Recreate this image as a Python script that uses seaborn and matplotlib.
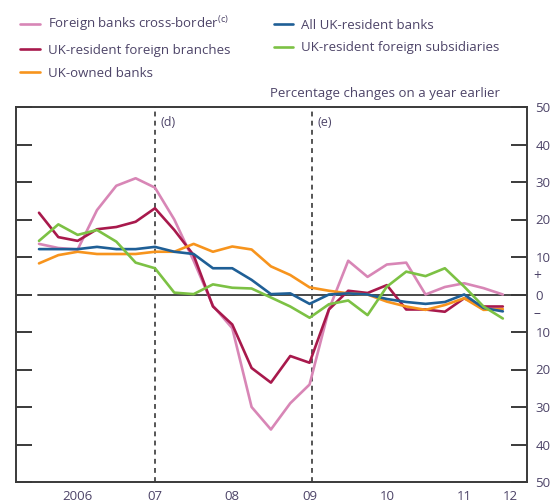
import pandas as pd
import matplotlib.pyplot as plt
import seaborn as sns
from matplotlib.lines import Line2D

# quarterly observations, 2006 Q1 .. 2012 Q1
quarters = list(range(25))

foreign_cross_border = [13.5, 12.4, 12.0, 22.5, 29.0, 31.0, 28.5, 20.0, 9.0, -3.0,
                        -9.0, -30.0, -36.0, -29.0, -24.0, -4.0, 9.0, 4.7, 8.0, 8.5,
                        0.0, 2.0, 3.0, 1.7, 0.0]
foreign_branches = [21.8, 15.3, 14.3, 17.4, 18.0, 19.4, 23.0, 17.2, 10.5, -3.2,
                    -8.0, -19.6, -23.5, -16.4, -18.2, -4.0, 1.0, 0.4, 2.5, -4.0,
                    -4.0, -4.6, -1.0, -3.2, -3.2]
uk_owned = [8.3, 10.5, 11.4, 10.8, 10.8, 10.8, 11.4, 11.4, 13.5, 11.4,
            12.8, 12.0, 7.5, 5.2, 1.9, 1.0, 0.3, 0.0, -1.9, -3.2,
            -4.1, -2.8, -1.0, -4.1, -3.9]
all_uk_resident = [12.1, 12.1, 12.1, 12.7, 12.1, 12.1, 12.7, 11.4, 10.8, 7.0,
                   7.0, 3.9, 0.1, 0.3, -2.5, 0.0, 0.3, 0.0, -1.2, -2.0,
                   -2.5, -2.0, 0.0, -3.6, -4.5]
foreign_subsidiaries = [14.3, 18.7, 15.9, 17.2, 14.1, 8.5, 7.0, 0.5, 0.1, 2.7,
                        1.8, 1.6, -0.8, -3.2, -6.2, -2.6, -1.6, -5.5, 2.1, 6.1,
                        4.9, 7.0, 2.1, -3.2, -6.4]

series_names = ['Foreign banks cross-border$^{(c)}$',
                'UK-resident foreign branches',
                'UK-owned banks',
                'All UK-resident banks',
                'UK-resident foreign subsidiaries']
series_values = [foreign_cross_border, foreign_branches, uk_owned,
                 all_uk_resident, foreign_subsidiaries]
colors = ['#d886b6', '#a8194c', '#f7941d', '#1f5f96', '#7cc144']

year_label_pos = [2, 6, 10, 14, 18, 22, 24.4]
year_labels = ['2006', '07', '08', '09', '10', '11', '12']
y_ticks = [50, 40, 30, 20, 10, 0, -10, -20, -30, -40, -50]
y_labels = ['50', '40', '30', '20', '10', '0', '10', '20', '30', '40', '50']
event_pos = [6.0, 14.1]
event_labels = ['(d)', '(e)']

df = pd.DataFrame({
    'quarter': quarters * len(series_names),
    'value': sum(series_values, []),
    'series': [n for n in series_names for _ in quarters],
})

sns.set_style('white')
plt.rcParams['font.family'] = ['Open Sans', 'DejaVu Sans']
plt.rcParams['mathtext.default'] = 'regular'
txt = '#4d4468'
dark = '#3a3a3a'

fig = plt.figure(figsize=(5.52, 5.03), dpi=100)
ax = fig.add_axes([16 / 552, 21 / 503, 511 / 552, 375 / 503])

ax.axhline(0, xmin=0.043, xmax=1, color=dark, lw=1.3, zorder=1)
for p in event_pos:
    ax.axvline(p, color='#555555', lw=1.4, ls=(0, (2.5, 2.2)), zorder=1)

sns.lineplot(data=df, x='quarter', y='value', hue='series',
             hue_order=series_names, palette=colors, linewidth=1.9,
             legend=False, ax=ax, zorder=3)

ax.set_xlim(-1.19, 25.25)
ax.set_ylim(-50, 50)
ax.set_xlabel('')
ax.set_ylabel('')

for s in ax.spines.values():
    s.set_color(dark)
    s.set_linewidth(1.4)

ax.set_xticks(range(0, 25, 4))
ax.set_xticklabels([])
ax.set_xticks(year_label_pos, year_labels, minor=True)
ax.tick_params(axis='x', which='major', direction='in', length=10, width=1.4, color=dark)
ax.tick_params(axis='x', which='minor', length=0, pad=6, labelsize=9.5, labelcolor=txt)

ax.set_yticks(y_ticks, y_labels)
ax.tick_params(axis='y', which='major', direction='in', length=11.5, width=1.4,
               color=dark, left=True, right=True, labelleft=False, labelright=True,
               labelsize=9.5, labelcolor=txt, pad=6)

ax.text(1.012, 4.7, '+', transform=ax.get_yaxis_transform(), color=txt, fontsize=10,
        va='center', ha='left')
ax.text(1.012, -5, '–', transform=ax.get_yaxis_transform(), color=txt, fontsize=10,
        va='center', ha='left')

for p, lab in zip(event_pos, event_labels):
    ax.text(p + 0.3, 46, lab, color=txt, fontsize=9, va='center', ha='left')

handles = [Line2D([], [], color=c, lw=1.9) for c in colors]
fig.legend(handles, series_names, loc='upper left', bbox_to_anchor=(0.024, 0.984),
           ncol=2, frameon=False, fontsize=9.5, handlelength=1.5, handletextpad=0.6,
           columnspacing=3.3, labelspacing=0.74, borderpad=0, labelcolor=txt)

fig.text(500 / 552, 1 - 93 / 503, 'Percentage changes on a year earlier',
         ha='right', va='center', fontsize=9.5, color=txt)

fig.savefig('out.png', dpi=100)
